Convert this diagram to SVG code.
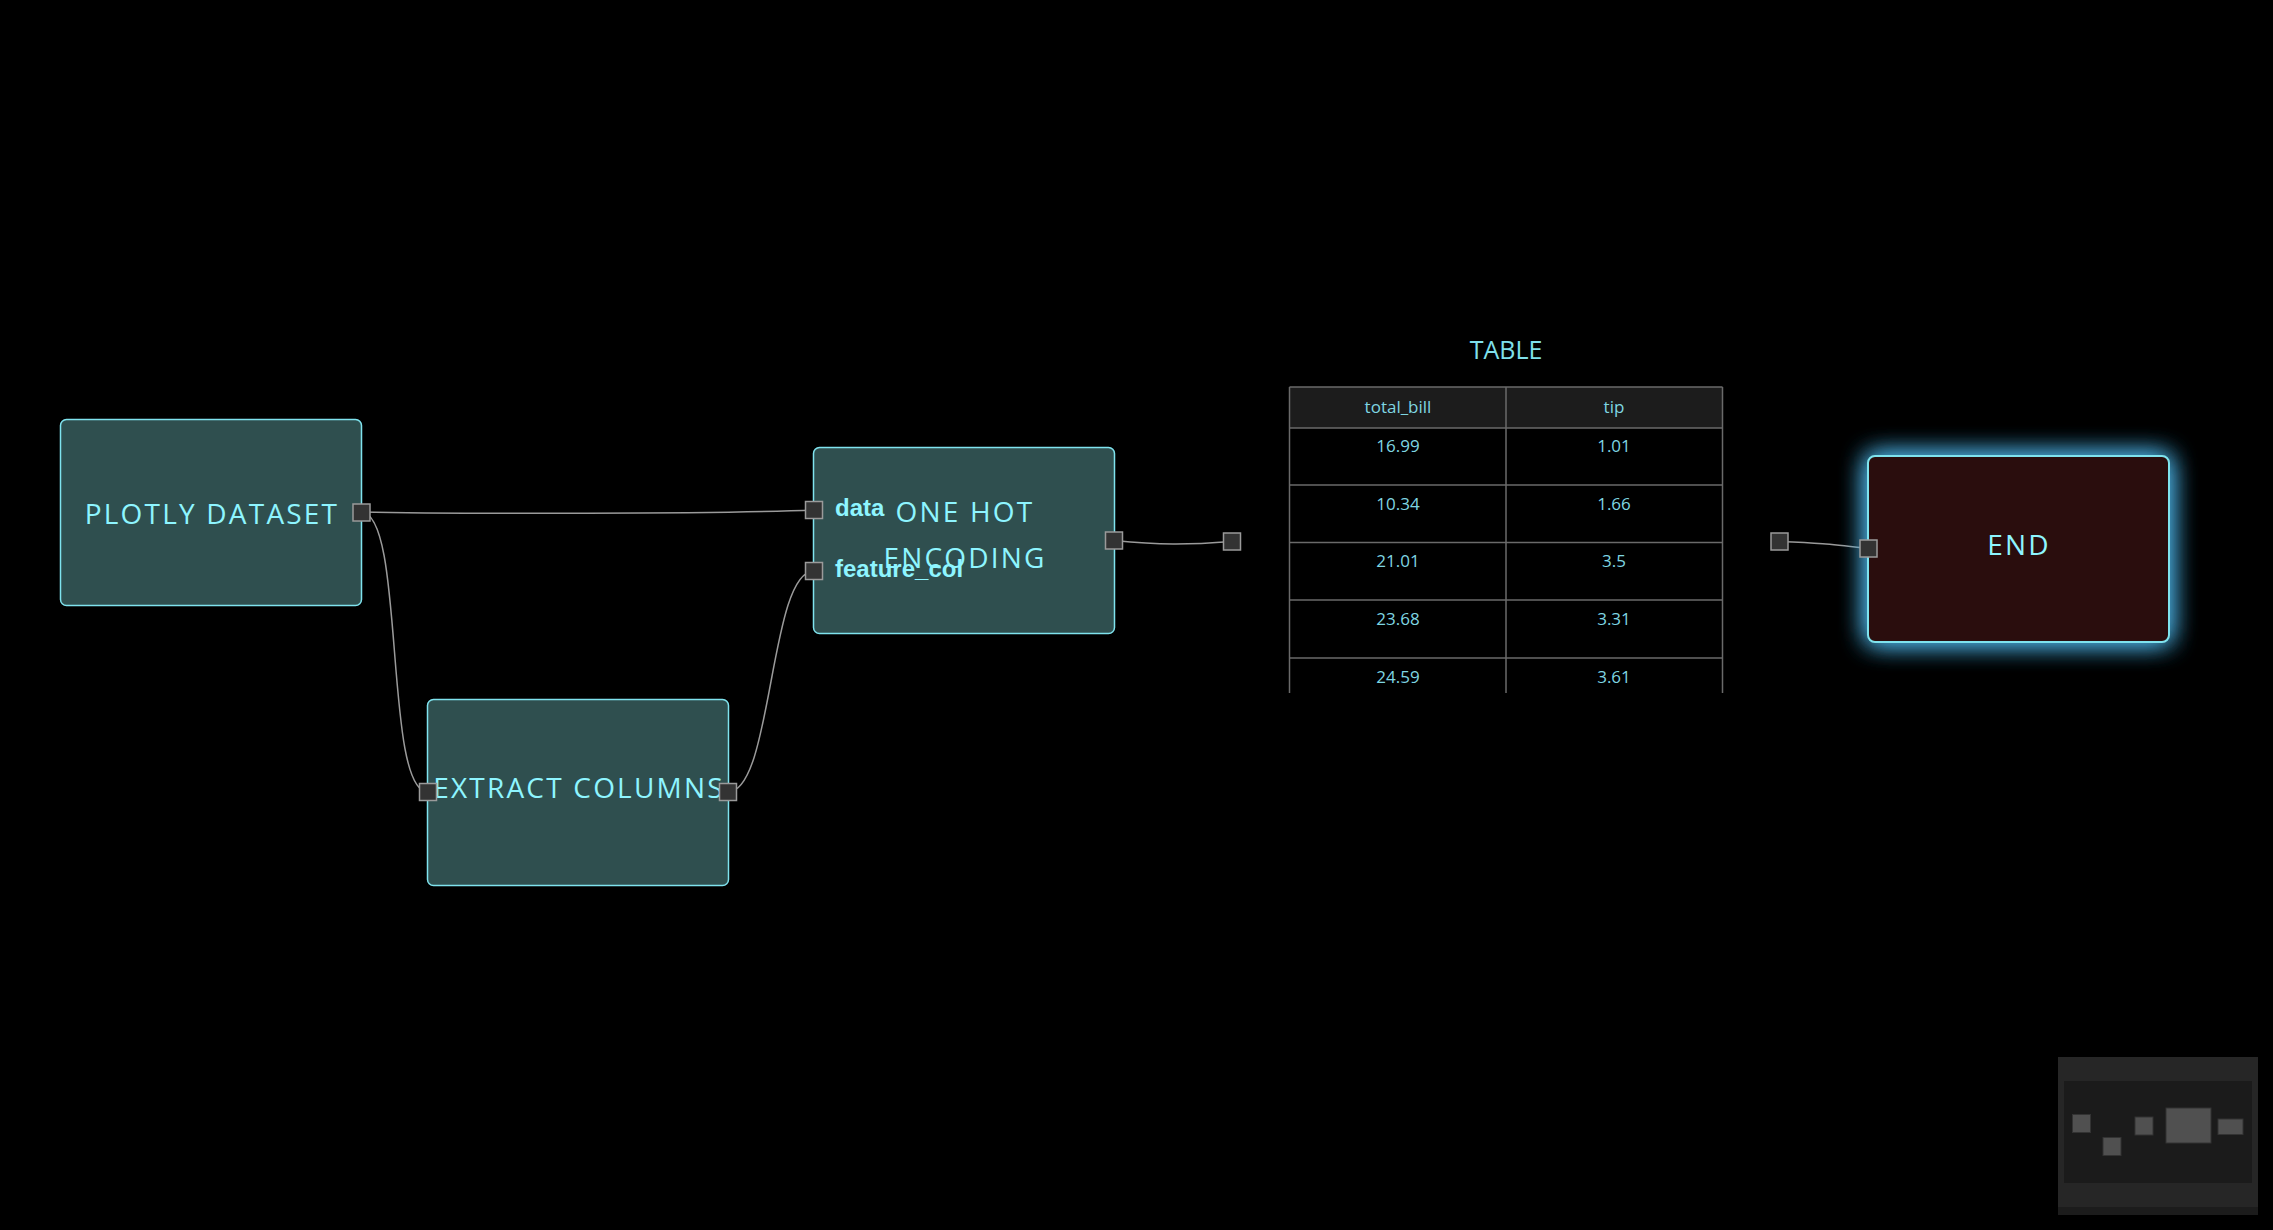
<svg xmlns="http://www.w3.org/2000/svg" width="2273" height="1230" viewBox="0 0 2273 1230">
<defs>
<filter id="glow" x="-30%" y="-45%" width="160%" height="190%">
<feFlood flood-color="#4aaee0" result="c"/>
<feComposite in="c" in2="SourceAlpha" operator="in" result="s"/>
<feGaussianBlur in="s" stdDeviation="13" result="b"/>
<feMerge><feMergeNode in="b"/><feMergeNode in="b"/><feMergeNode in="SourceGraphic"/></feMerge>
</filter>
<clipPath id="tclip"><rect x="1280" y="380" width="460" height="313"/></clipPath>
</defs>
<style>
.node{fill:#2f4f4f;stroke:#7fe3ee;stroke-width:1.5}
.end{fill:#2b0e0c;stroke:#7fe3ee;stroke-width:2}
.title{font-family:"Open Sans","Noto Sans",sans-serif;font-size:28px;font-weight:500;letter-spacing:2.2px;fill:#8ef5ff;text-anchor:middle}
.port{fill:#333;stroke:#9a9a9a;stroke-width:1.5}
.plabel{font-family:"Liberation Sans",Arial,sans-serif;font-weight:bold;font-size:24px;fill:#8ef5ff}
.wire{fill:none;stroke:#9a9a9a;stroke-width:1.5}
.cell{font-family:"Open Sans","Noto Sans",sans-serif;font-size:17px;fill:#7fd6e2;text-anchor:middle}
.grid{stroke:#6a6a6a;stroke-width:1.5;fill:none}
</style>
<rect width="2273" height="1230" fill="#000"/>

<g id="connectors">
<path class="wire" d="M361,512 C450,514 725,514 814,510"/>
<path class="wire" d="M361,512 C406,512 383,792 428,792"/>
<path class="wire" d="M728,792 C773,792 769,571 814,571"/>
<path class="wire" d="M1114,540.5 C1160,545 1186,545 1232,541.5"/>
<path class="wire" d="M1779.5,541.5 C1820,543 1828,544 1868.5,548.5"/>
</g>

<g id="node-plotly-dataset">
<rect class="node" x="60.5" y="419.5" width="301" height="186" rx="6"/>
<text class="title" x="212" y="524">PLOTLY DATASET</text>
<rect class="port" x="353" y="504" width="17" height="17"/>
</g>

<g id="node-extract-columns">
<rect class="node" x="427.5" y="699.5" width="301" height="186" rx="6"/>
<text class="title" x="579" y="798">EXTRACT COLUMNS</text>
<rect class="port" x="419.5" y="783.5" width="17" height="17"/>
<rect class="port" x="719.5" y="783.5" width="17" height="17"/>
</g>

<g id="node-one-hot-encoding">
<rect class="node" x="813.5" y="447.5" width="301" height="186" rx="6"/>
<text class="title" x="965" y="522">ONE HOT</text>
<text class="title" x="965" y="568">ENCODING</text>
<rect class="port" x="805.5" y="501.5" width="17" height="17"/>
<rect class="port" x="805.5" y="562.5" width="17" height="17"/>
<text class="plabel" x="835" y="516">data</text>
<text class="plabel" x="835" y="577">feature_col</text>
<rect class="port" x="1105.5" y="532" width="17" height="17"/>
</g>

<g id="node-table">
<text x="1506" y="359" font-family="'Open Sans','Noto Sans',sans-serif" font-size="25" fill="#7fe0ec" text-anchor="middle">TABLE</text>
<g clip-path="url(#tclip)">
<rect x="1289.5" y="387" width="433" height="41" fill="#1c1c1c"/>
<path class="grid" d="M1289.5,387 H1722.5 M1289.5,428 H1722.5 M1289.5,485 H1722.5 M1289.5,542.5 H1722.5 M1289.5,600 H1722.5 M1289.5,658 H1722.5 M1289.5,387 V700 M1506,387 V700 M1722.5,387 V700"/>
<text class="cell" x="1398" y="413">total_bill</text>
<text class="cell" x="1614" y="413">tip</text>
<text class="cell" x="1398" y="452">16.99</text>
<text class="cell" x="1614" y="452">1.01</text>
<text class="cell" x="1398" y="510">10.34</text>
<text class="cell" x="1614" y="510">1.66</text>
<text class="cell" x="1398" y="567">21.01</text>
<text class="cell" x="1614" y="567">3.5</text>
<text class="cell" x="1398" y="624.5">23.68</text>
<text class="cell" x="1614" y="624.5">3.31</text>
<text class="cell" x="1398" y="682.5">24.59</text>
<text class="cell" x="1614" y="682.5">3.61</text>
</g>
<rect class="port" x="1223.5" y="533" width="17" height="17"/>
<rect class="port" x="1771" y="533" width="17" height="17"/>
</g>

<g id="node-end">
<rect class="end" x="1868" y="456" width="301" height="186" rx="7" filter="url(#glow)"/>
<text class="title" x="2019" y="555">END</text>
<rect class="port" x="1860" y="540" width="17" height="17"/>
</g>

<g id="minimap">
<rect x="2058" y="1057" width="200" height="158" fill="#262626"/>
<rect x="2064" y="1081" width="188" height="102" fill="#1b1b1b"/>
<rect x="2058" y="1207" width="200" height="8" fill="#1c1c1c"/>
<g fill="#505050" stroke="#333" stroke-width="1">
<rect x="2072.5" y="1114.5" width="18" height="18"/>
<rect x="2103" y="1137.5" width="18" height="18"/>
<rect x="2135" y="1117" width="18" height="18"/>
<rect x="2166" y="1108" width="45" height="35"/>
<rect x="2218" y="1119" width="25" height="15.5"/>
</g>
</g>
</svg>
